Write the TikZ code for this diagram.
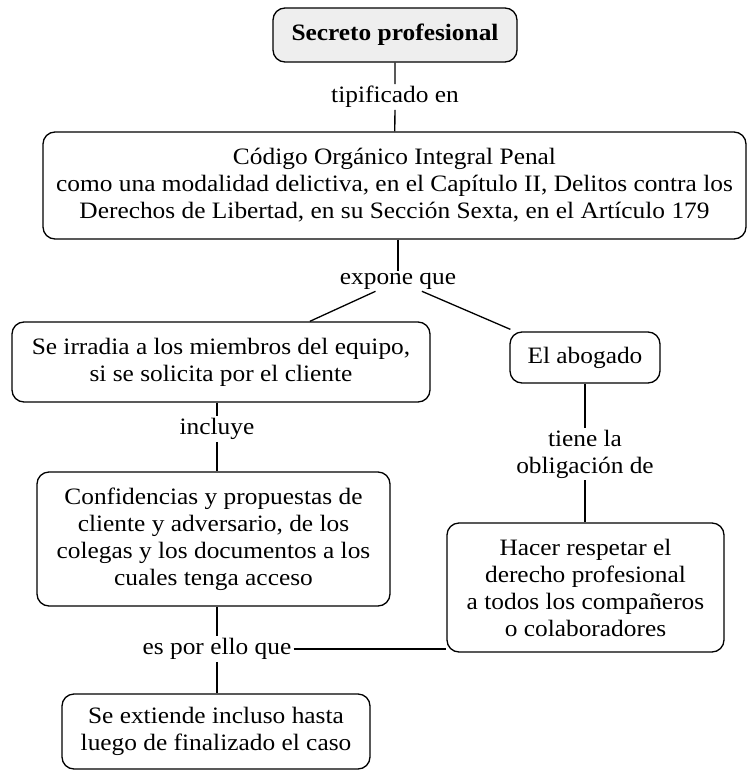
\documentclass[tikz,border=0pt]{standalone}
\usepackage{fontspec}
\setmainfont[FakeStretch=1.08]{Liberation Serif}
\usetikzlibrary{positioning}
\tikzset{concept/.style={draw, line width=1.3pt, rounded corners=12pt, align=center, inner sep=0pt},
         link/.style={align=center, inner sep=1.5pt}}

\begin{document}
\begin{tikzpicture}[x=1pt,y=-1pt,line width=1.3pt,font=\fontsize{23.5}{27}\selectfont]
           \useasboundingbox (0,0) rectangle (747,771);
           % concepts
           \node[concept,fill=gray!13,minimum width=244pt,minimum height=54pt,font=\fontsize{23.5}{27}\selectfont\bfseries] (sec) at (395,35) {Secreto profesional};
           \node[concept,minimum width=703pt,minimum height=107pt] (cod) at (394.5,185.5) {Código Orgánico Integral Penal\\como una modalidad delictiva, en el Capítulo II, Delitos contra los\\Derechos de Libertad, en su Sección Sexta, en el Artículo 179};
           \node[concept,minimum width=418pt,minimum height=80pt] (irr) at (221,362) {Se irradia a los miembros del equipo,\\si se solicita por el cliente};
           \node[concept,minimum width=150pt,minimum height=51pt] (abo) at (585,357.5) {El abogado};
           \node[concept,minimum width=353pt,minimum height=134pt] (conf) at (213.5,539) {Confidencias y propuestas de\\cliente y adversario, de los\\colegas y los documentos a los\\cuales tenga acceso};
           \node[concept,minimum width=277pt,minimum height=129pt] (hac) at (585.5,587.5) {Hacer respetar el\\derecho profesional\\a todos los compañeros\\o colaboradores};
           \node[concept,minimum width=308pt,minimum height=75pt] (ext) at (216,731.5) {Se extiende incluso hasta\\luego de finalizado el caso};
           % link phrases
           \node[link] (l_1) at (395,97) {tipificado en};
           \node[link] (l_2) at (398,281) {expone que};
           \node[link] (l_3) at (217,429) {incluye};
           \node[link] (l_4) at (585,454) {tiene la\\obligación de};
           \node[link] (l_5) at (217,649) {es por ello que};
           % connectors
           \draw (sec) -- (l_1) -- (cod);
           \draw (cod.south -| l_2) -- (l_2);
           \draw (l_2) -- (irr);
           \draw (l_2) -- ([xshift=1pt,yshift=2pt]abo.north west);
           \draw (irr.south -| l_3) -- (l_3) -- (conf.north -| l_3);
           \draw (abo) -- (l_4) -- (hac.north -| l_4);
           \draw (conf.south -| l_5) -- (l_5) -- (ext.north -| l_5);
           \draw (l_5.east) -- (l_5 -| hac.west);
        \end{tikzpicture}
\end{document}
